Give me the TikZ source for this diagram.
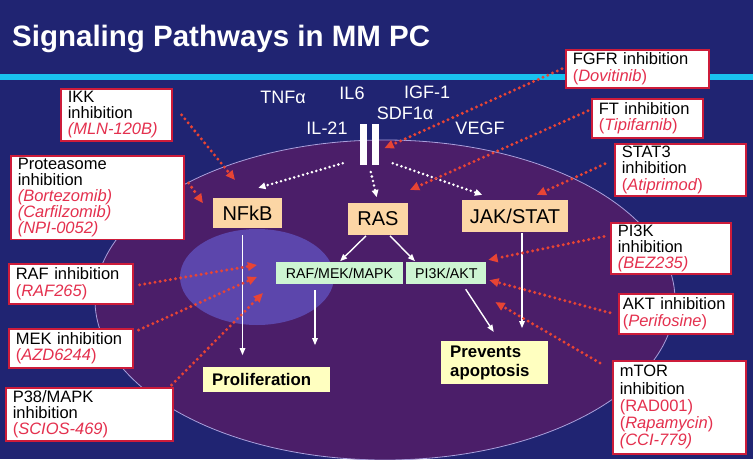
\documentclass[tikz,border=0pt]{standalone}
\usepackage{fontspec}
\setmainfont{Liberation Sans}
\usetikzlibrary{positioning,calc,arrows.meta}
\hyphenpenalty=10000
\definecolor{bgnavy}{RGB}{32,36,114}
\definecolor{band}{RGB}{25,195,240}
\definecolor{cellc}{RGB}{75,30,105}
\definecolor{celledge}{RGB}{170,160,220}
\definecolor{nucl}{RGB}{92,70,172}
\definecolor{peach}{RGB}{252,214,165}
\definecolor{mint}{RGB}{205,245,210}
\definecolor{lemon}{RGB}{255,255,192}
\definecolor{inhred}{RGB}{205,28,58}
\definecolor{drugred}{RGB}{228,48,78}
\definecolor{arrred}{RGB}{232,68,52}
\newcommand{\drug}[1]{{\color{drugred}(\textit{#1})}}
\newcommand{\drugi}[1]{{\color{drugred}\itshape(#1)}}
\newcommand{\drugu}[1]{{\color{drugred}(#1)}}
\tikzset{
  ttl/.style={text=white, font=\bfseries\fontsize{29.5}{32}\selectfont, inner sep=0pt},
  lig/.style={text=white, font=\fontsize{18}{20}\selectfont, inner sep=0pt},
  bar/.style={fill=white, minimum width=7pt, minimum height=41pt, inner sep=0pt},
  inh/.style={draw=inhred, line width=1.6pt, fill=white, anchor=north west, align=left,
    inner xsep=7pt, inner ysep=2pt, font=\fontsize{16.5}{16.2}\selectfont},
  pbox/.style={fill=peach, inner sep=1pt, font=\fontsize{20}{22}\selectfont},
  gbox/.style={fill=mint, inner sep=1pt, minimum height=22pt, font=\fontsize{14.2}{16}\selectfont},
  ybox/.style={fill=lemon, anchor=north west, align=left, inner xsep=9pt, inner ysep=2pt,
    font=\bfseries\fontsize{16.8}{19}\selectfont},
  warr/.style={draw=white, line width=1.4pt, -{Triangle[length=7pt,width=6pt,line width=0pt]}},
  wdot/.style={draw=white, line width=2.8pt, line cap=round, dash pattern=on 0pt off 4.6pt,
    -{Triangle[length=7pt,width=7pt,line width=0pt]}},
  rdot/.style={draw=arrred, line width=3.3pt, line cap=round, dash pattern=on 0pt off 5.2pt,
    -{Triangle[length=9pt,width=9pt,line width=0pt]}}
}
\begin{document}
\begin{tikzpicture}[x=1pt,y=-1pt]
\useasboundingbox (0,0) rectangle (753,459);
\fill[bgnavy] (0,0) rectangle (753,459);
\fill[band] (0,74) rectangle (753,80);
\filldraw[fill=cellc, draw=celledge, line width=0.8pt] (385,300) ellipse [x radius=290pt, y radius=160pt];
\fill[nucl] (257,277) ellipse [x radius=77pt, y radius=48pt];

\node[ttl, anchor=base west] (title) at (12,46) {Signaling Pathways in MM PC};

\node[lig] (tnf) at (283,97) {TNFα};
\node[lig] (il6) at (352,93) {IL6};
\node[lig] (igf) at (427,92) {IGF-1};
\node[lig] (sdf) at (405,113) {SDF1α};
\node[lig] (il21) at (327,128) {IL-21};
\node[lig] (vegf) at (480,128) {VEGF};
\node[bar] (rc1) at (363.5,144.5) {};
\node[bar] (rc2) at (375,144.5) {};

\node[pbox, minimum width=69pt, minimum height=30pt] (nfkb) at (247.5,213) {NFkB};
\node[pbox, minimum width=60pt, minimum height=32pt] (ras) at (378,219) {RAS};
\node[pbox, minimum width=106pt, minimum height=32pt] (jak) at (515,216) {JAK/STAT};
\node[gbox, minimum width=127pt] (raf) at (339.5,273) {RAF/MEK/MAPK};
\node[gbox, minimum width=80pt, right=3pt of raf] (pik) {PI3K/AKT};
\node[ybox, text width=109pt, minimum height=25pt] (prol) at (203,367) {Proliferation};
\node[ybox, text width=89pt, minimum height=43pt] (prev) at (441,341) {Prevents\\apoptosis};

\node[inh, text width=97pt, minimum height=52pt] (ikk) at (60,88) {IKK\\inhibition\\\drugi{MLN-120B}};
\node[inh, text width=159pt, minimum height=83pt] (prot) at (10,155) {Proteasome\\inhibition\\\drugi{Bortezomib}\\\drugi{Carfilzomib}\\\drugi{NPI-0052}};
\node[inh, text width=110pt, minimum height=40pt] (rafi) at (8,263) {RAF inhibition\\\drug{RAF265}};
\node[inh, text width=110pt, minimum height=39pt] (meki) at (8,328) {MEK inhibition\\\drug{AZD6244}};
\node[inh, text width=153pt, minimum height=53pt] (p38) at (5,387) {P38/MAPK\\inhibition\\\drug{SCIOS-469}};
\node[inh, text width=129pt, minimum height=38pt] (fgfr) at (565,49) {FGFR inhibition\\\drug{Dovitinib}};
\node[inh, text width=97pt, minimum height=39pt] (fti) at (591,98) {FT inhibition\\\drug{Tipifarnib}};
\node[inh, text width=117pt, minimum height=52pt] (stat3) at (614,143) {STAT3\\inhibition\\\drug{Atiprimod}};
\node[inh, text width=106pt, minimum height=51pt] (pi3ki) at (610,222) {PI3K\\inhibition\\\drugi{BEZ235}};
\node[inh, text width=106pt, inner xsep=4pt, minimum height=40pt] (akti) at (618,293) {AKT inhibition\\\drug{Perifosine}};
\node[inh, text width=119pt, minimum height=93pt, font=\fontsize{16.5}{17.3}\selectfont] (mtor) at (612,360) {mTOR\\inhibition\\\drugu{RAD001}\\\drug{Rapamycin}\\\drugi{CCI-779}};

\draw[wdot] ([shift={(-17,-2)}]rc1.south west) -- ([shift={(11,-10)}]nfkb.north);
\draw[wdot, shorten <=7pt, shorten >=6pt] ($(rc1.south)!.5!(rc2.south)$) -- (ras.north);
\draw[wdot] ([shift={(14,-2)}]rc2.south east) -- ([shift={(-33,-5)}]jak.north);

\draw[warr, shorten <=1pt, shorten >=1pt] (ras.235) -- (raf.north);
\draw[warr, shorten <=1pt, shorten >=1pt] (ras.305) -- (pik.160);
\draw[warr, shorten <=7pt, shorten >=12pt] ([xshift=-5pt]nfkb.south) -- ([xshift=-5pt]nfkb.south |- prol.north);
\draw[warr, shorten <=6pt, shorten >=22pt] ([xshift=-24.5pt]raf.south) -- ([xshift=-24.5pt]raf.south |- prol.north);
\draw[warr, shorten <=6pt, shorten >=11pt] ([xshift=16pt]pik.south) -- ([xshift=5pt]prev.north);
\draw[warr, shorten <=1pt, shorten >=13pt] ([xshift=7pt]jak.south) -- ([xshift=7pt]jak.south |- prev.north);

\draw[rdot] ([xshift=9pt]ikk.east) -- ([shift={(22,-18)}]nfkb.north west);
\draw[rdot] ([shift={(4,28)}]prot.north east) -- ([shift={(-10,-10)}]nfkb.west);
\draw[rdot] ([shift={(6,1)}]rafi.east) -- ([shift={(-19,-8)}]raf.west);
\draw[rdot] ([shift={(5,2)}]meki.north east) -- ([shift={(-19,4)}]raf.west);
\draw[rdot] ([shift={(-2,-2)}]p38.north east) -- ([shift={(-13,9)}]raf.south west);
\draw[rdot] ([xshift=-3pt]fgfr.west) -- ([shift={(6,3.5)}]rc2.east);
\draw[rdot] ([shift={(-3,-7.5)}]fti.west) -- ([shift={(2,-13)}]ras.north east);
\draw[rdot] ([shift={(-9,-6)}]stat3.west) -- ([shift={(22,-5)}]jak.north);
\draw[rdot] ([shift={(-6,-12)}]pi3ki.west) -- ([shift={(2,-2)}]pik.north east);
\draw[rdot] ([shift={(-8,-1)}]akti.west) -- ([shift={(3,-4)}]pik.south east);
\draw[rdot] ([shift={(-12,3)}]mtor.north west) -- ([shift={(9,18)}]pik.south east);
\end{tikzpicture}
\end{document}
